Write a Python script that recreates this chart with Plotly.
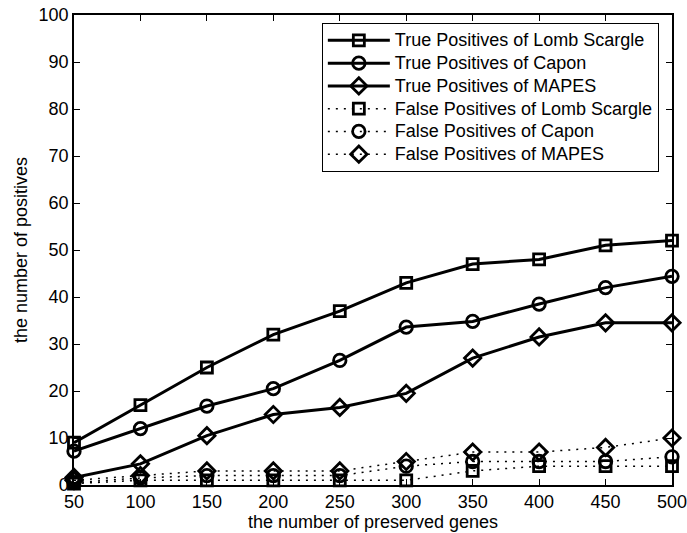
import plotly.graph_objects as go

genes = [50, 100, 150, 200, 250, 300, 350, 400, 450, 500]

tp_lomb = [9, 17, 25, 32, 37, 43, 47, 48, 51, 52]
tp_capon = [7.2, 12, 16.8, 20.5, 26.5, 33.6, 34.8, 38.5, 42, 44.4]
tp_mapes = [1.6, 4.5, 10.5, 15, 16.5, 19.5, 27, 31.5, 34.5, 34.5]

fp_lomb = [0.3, 1, 1, 1, 1, 1, 3, 4, 4, 4]
fp_capon = [0.5, 1.5, 2, 2, 2, 4, 5, 5, 5, 6]
fp_mapes = [1, 2, 3, 3, 3, 5, 7, 7, 8, 10]

names = [
    "True Positives of Lomb Scargle",
    "True Positives of Capon",
    "True Positives of MAPES",
    "False Positives of Lomb Scargle",
    "False Positives of Capon",
    "False Positives of MAPES",
]

x_ticks = [50, 100, 150, 200, 250, 300, 350, 400, 450, 500]
y_ticks = [0, 10, 20, 30, 40, 50, 60, 70, 80, 90, 100]

FONT = "Liberation Sans, Arial, Helvetica, sans-serif"
FS = 18

series = [
    (names[0], tp_lomb, "square-open", 11, "solid", 3),
    (names[1], tp_capon, "circle-open", 12.5, "solid", 3),
    (names[2], tp_mapes, "diamond-open", 12.5, "solid", 3),
    (names[3], fp_lomb, "square-open", 11, "2px,6px", 1.5),
    (names[4], fp_capon, "circle-open", 12.5, "2px,6px", 1.5),
    (names[5], fp_mapes, "diamond-open", 12.5, "2px,6px", 1.5),
]

fig = go.Figure()
for name, vals, sym, size, dash, lw in series:
    fig.add_trace(go.Scatter(
        x=genes, y=vals,
        name='<span style="font-size:%dpx">%s</span>' % (FS, name),
        mode="lines+markers",
        line=dict(color="black", width=lw, dash=dash),
        marker=dict(symbol=sym, size=size, color="black",
                    line=dict(color="black", width=2.8)),
        cliponaxis=False,
    ))

axis_common = dict(
    showgrid=False, zeroline=False, showline=True, linecolor="black",
    linewidth=1.5, mirror="ticks", ticks="inside", ticklen=6,
    tickcolor="black", tickwidth=1, ticklabeloverflow="allow",
    automargin=False,
    tickfont=dict(family=FONT, size=FS, color="black"),
)

fig.update_xaxes(range=[50, 500], tickvals=x_ticks,
                 title=dict(text="the number of preserved genes",
                            font=dict(family=FONT, size=FS, color="black"),
                            standoff=3),
                 **axis_common)
fig.update_yaxes(range=[0, 100], tickvals=y_ticks,
                 title=dict(text="the number of positives",
                            font=dict(family=FONT, size=FS, color="black"),
                            standoff=6),
                 **axis_common)

fig.update_layout(
    template="none",
    width=687, height=533,
    margin=dict(l=74, r=15, t=15, b=48, autoexpand=False),
    paper_bgcolor="white", plot_bgcolor="white",
    font=dict(family=FONT, size=FS, color="black"),
    showlegend=True,
    legend=dict(x=0.978, y=0.983, xanchor="right", yanchor="top",
                bgcolor="white", bordercolor="black", borderwidth=1,
                font=dict(family=FONT, size=15.2, color="black"),
                tracegroupgap=0, itemwidth=62),
)

fig.write_html("out.html")
